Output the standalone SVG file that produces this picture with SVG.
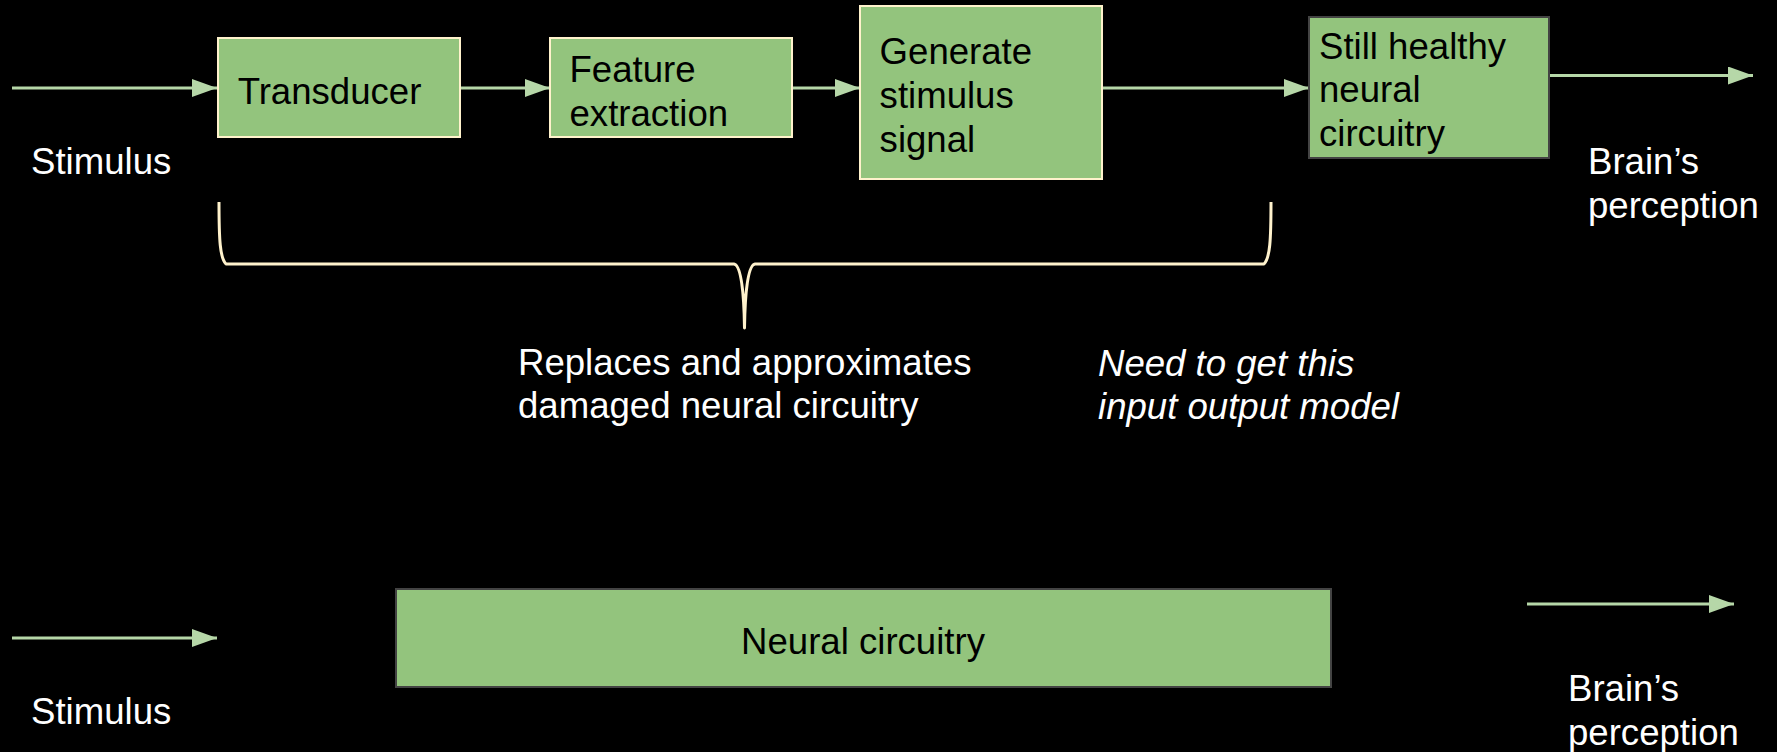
<svg xmlns="http://www.w3.org/2000/svg" width="1777" height="752" viewBox="0 0 1777 752">
<style>
.bg{fill:#000000}
.box{fill:#93c47d;stroke-width:2}
.cream{stroke:#fff2cc}
.dark{stroke:#434343}
.t{font-family:"Liberation Sans",Arial,sans-serif;font-size:36.6px}
.in{fill:#000000}
.lbl{fill:#ffffff}
.it{font-style:italic}
.conn{stroke:#b6d7a8;stroke-width:3;fill:none}
.brace{stroke:#fff2cc;stroke-width:3;fill:none;stroke-linejoin:round}
</style>
<defs>
<marker id="ah" markerUnits="userSpaceOnUse" markerWidth="26" markerHeight="18" refX="25" refY="9" orient="auto">
<path d="M0,0 L25,9 L0,18 z" fill="#b6d7a8"/>
</marker>
</defs>
<rect class="bg" x="0" y="0" width="1777" height="752"/>

<g id="connectors">
<line class="conn" x1="12" y1="88" x2="217" y2="88" marker-end="url(#ah)"/>
<line class="conn" x1="460" y1="88" x2="550" y2="88" marker-end="url(#ah)"/>
<line class="conn" x1="792" y1="88" x2="860" y2="88" marker-end="url(#ah)"/>
<line class="conn" x1="1102" y1="88" x2="1309" y2="88" marker-end="url(#ah)"/>
<line class="conn" x1="1549" y1="75.5" x2="1753" y2="75.5" marker-end="url(#ah)"/>
<line class="conn" x1="12" y1="638" x2="217" y2="638" marker-end="url(#ah)"/>
<line class="conn" x1="1527" y1="604" x2="1734" y2="604" marker-end="url(#ah)"/>
</g>

<g id="transducer">
<rect class="box cream" x="218" y="38" width="242" height="99"/>
<text class="t in" x="237.7" y="103.5">Transducer</text>
</g>

<g id="feature-extraction">
<rect class="box cream" x="550" y="38" width="242" height="99"/>
<text class="t in" x="569.5" y="81.5">Feature</text>
<text class="t in" x="569.5" y="125.5">extraction</text>
</g>

<g id="generate-stimulus">
<rect class="box cream" x="860" y="6" width="242" height="173"/>
<text class="t in" x="879.6" y="64">Generate</text>
<text class="t in" x="879.6" y="108">stimulus</text>
<text class="t in" x="879.6" y="152">signal</text>
</g>

<g id="still-healthy">
<rect class="box dark" x="1309" y="17" width="240" height="141"/>
<text class="t in" x="1319" y="58.5">Still healthy</text>
<text class="t in" x="1319" y="102">neural</text>
<text class="t in" x="1319" y="145.5">circuitry</text>
</g>

<g id="neural-circuitry">
<rect class="box dark" x="396" y="589" width="935" height="98"/>
<text class="t in" x="863" y="654" text-anchor="middle">Neural circuitry</text>
</g>

<g id="brace">
<path class="brace" d="M219,202 C219,240 220,258 226,264 L734,264 C741,265 744,292 744.5,328 C745,292 748,265 755,264 L1264,264 C1270,258 1271,240 1271,202"/>
</g>

<g id="labels">
<text class="t lbl" x="31" y="173.5">Stimulus</text>
<text class="t lbl" x="1588" y="173.5">Brain’s</text>
<text class="t lbl" x="1588" y="217.5">perception</text>
<text class="t lbl" x="518" y="374.5">Replaces and approximates</text>
<text class="t lbl" x="518" y="418">damaged neural circuitry</text>
<text class="t lbl it" x="1098" y="375.5">Need to get this</text>
<text class="t lbl it" x="1098" y="419">input output model</text>
<text class="t lbl" x="31" y="723.5">Stimulus</text>
<text class="t lbl" x="1568" y="701">Brain’s</text>
<text class="t lbl" x="1568" y="745">perception</text>
</g>
</svg>
